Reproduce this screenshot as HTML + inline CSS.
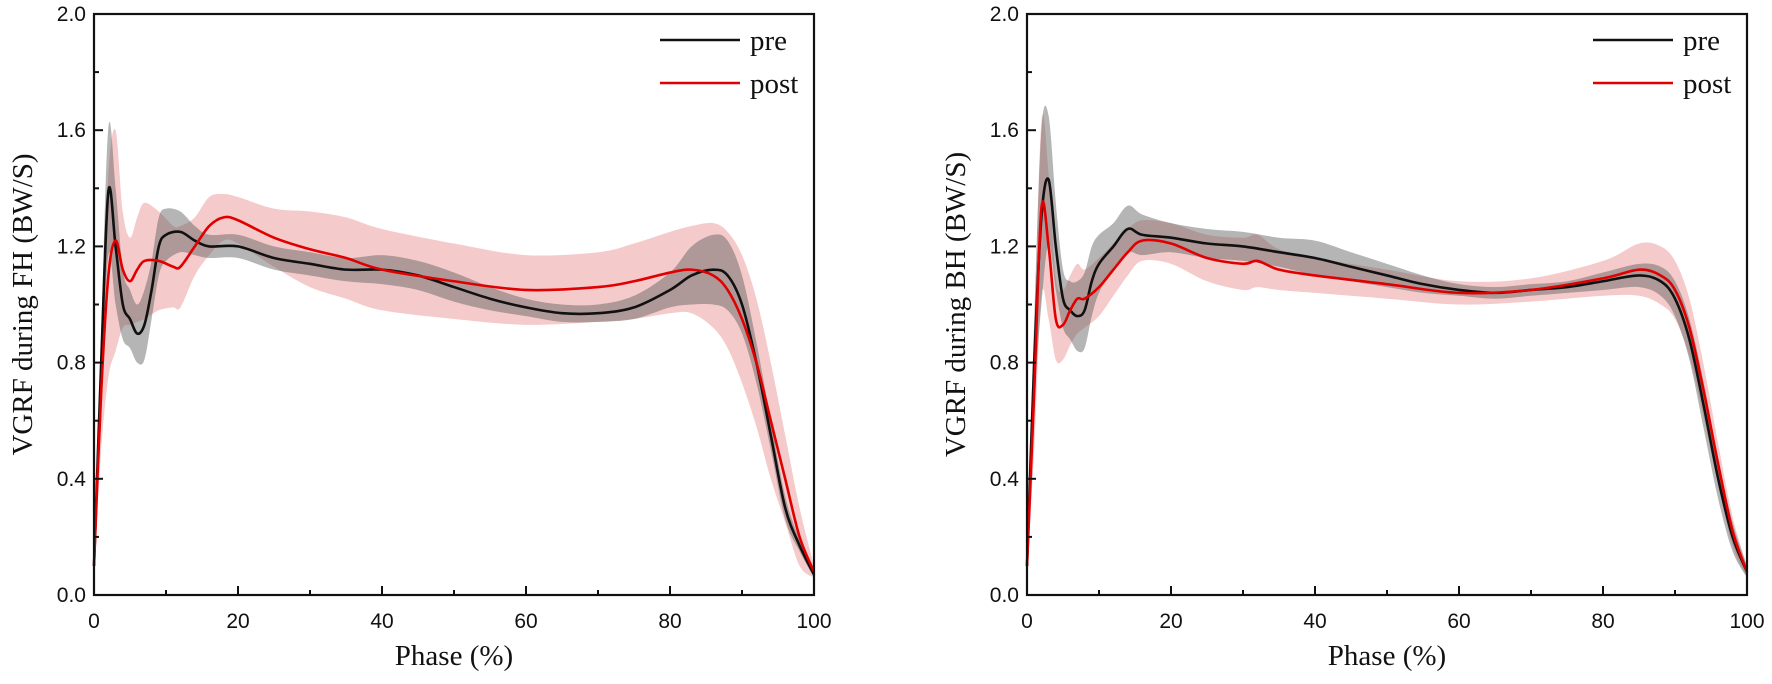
<!DOCTYPE html>
<html><head><meta charset="utf-8"><style>
html,body{margin:0;padding:0;background:#fff;}
svg{display:block;}
.tick{font-family:"Liberation Sans",sans-serif;font-size:21px;fill:#111;}
.title{font-family:"Liberation Serif",serif;font-size:29px;fill:#111;}
.leg{font-family:"Liberation Serif",serif;font-size:29px;fill:#111;}
</style></head><body>
<svg id="chart" width="1772" height="684" viewBox="0 0 1772 684"></svg>
<script>
// Phase points (%)
const fhPreX  = [0,1,2,3,4,5,6,7,8,9,10,12,14,16,20,25,30,35,40,45,50,55,60,65,70,75,80,83,86,88,90,92,94,96,98,100];
const fhPreY  = [0.1,0.8,1.39,1.2,1.0,0.95,0.9,0.93,1.05,1.2,1.24,1.25,1.22,1.2,1.2,1.16,1.14,1.12,1.12,1.1,1.06,1.02,0.99,0.97,0.97,0.99,1.05,1.1,1.12,1.1,1.0,0.8,0.55,0.3,0.17,0.07];
const fhPreSD = [0.02,0.1,0.22,0.2,0.12,0.1,0.1,0.12,0.1,0.1,0.09,0.07,0.05,0.04,0.04,0.04,0.04,0.04,0.05,0.05,0.05,0.04,0.03,0.03,0.03,0.04,0.06,0.1,0.12,0.12,0.1,0.07,0.05,0.04,0.02,0.01];
const fhPostX = [0,1,2,3,4,5,6,7,9,11,12,14,16,18,20,25,30,35,40,50,60,70,75,80,83,86,88,90,92,94,96,98,100];
const fhPostY = [0.1,0.7,1.1,1.22,1.12,1.08,1.12,1.15,1.15,1.13,1.13,1.2,1.27,1.3,1.29,1.23,1.19,1.16,1.12,1.08,1.05,1.06,1.08,1.11,1.12,1.1,1.05,0.95,0.8,0.6,0.4,0.2,0.08];
const fhPostSD= [0.02,0.2,0.35,0.38,0.2,0.15,0.18,0.2,0.17,0.14,0.14,0.1,0.1,0.08,0.08,0.1,0.13,0.14,0.14,0.13,0.12,0.12,0.13,0.14,0.15,0.18,0.2,0.22,0.22,0.2,0.15,0.1,0.02];
const bhPreX  = [0,1,2,3,4,5,6,7,8,9,10,12,14,16,20,25,30,35,40,45,50,55,60,65,70,75,80,85,88,90,92,94,96,98,100];
const bhPreY  = [0.1,0.8,1.3,1.43,1.2,1.02,0.98,0.96,0.98,1.08,1.14,1.2,1.26,1.24,1.23,1.21,1.2,1.18,1.16,1.13,1.1,1.07,1.05,1.04,1.05,1.06,1.08,1.1,1.08,1.02,0.88,0.65,0.4,0.2,0.08];
const bhPreSD = [0.02,0.15,0.3,0.22,0.15,0.1,0.1,0.12,0.13,0.12,0.1,0.08,0.08,0.07,0.05,0.05,0.05,0.05,0.06,0.05,0.04,0.03,0.02,0.02,0.02,0.02,0.03,0.04,0.05,0.06,0.07,0.08,0.07,0.05,0.02];
const bhPostX = [0,1,2,3,4,5,6,7,8,10,12,14,16,20,25,30,32,35,40,50,60,70,80,85,88,90,92,94,96,98,100];
const bhPostY = [0.1,0.7,1.33,1.2,0.95,0.93,0.98,1.02,1.02,1.06,1.12,1.18,1.22,1.21,1.16,1.14,1.15,1.12,1.1,1.07,1.04,1.05,1.09,1.12,1.1,1.05,0.92,0.7,0.45,0.22,0.08];
const bhPostSD= [0.02,0.2,0.3,0.25,0.14,0.12,0.12,0.12,0.1,0.1,0.09,0.08,0.07,0.07,0.08,0.09,0.09,0.07,0.06,0.05,0.04,0.04,0.06,0.09,0.1,0.1,0.1,0.09,0.07,0.05,0.02];
const yTicks = [0,0.4,0.8,1.2,1.6,2.0];
const xTicks = [0,20,40,60,80,100];

const NS='http://www.w3.org/2000/svg';
const svg=document.getElementById('chart');
function mk(tag,attrs,parent){const e=document.createElementNS(NS,tag);for(const k in attrs)e.setAttribute(k,attrs[k]);(parent||svg).appendChild(e);return e;}
function smooth(pts){
  let d='';
  for(let i=0;i<pts.length-1;i++){
    const p0=pts[Math.max(0,i-1)],p1=pts[i],p2=pts[i+1],p3=pts[Math.min(pts.length-1,i+2)];
    const c1=[p1[0]+(p2[0]-p0[0])/6,p1[1]+(p2[1]-p0[1])/6];
    const c2=[p2[0]-(p3[0]-p1[0])/6,p2[1]-(p3[1]-p1[1])/6];
    d+='C'+c1[0].toFixed(2)+','+c1[1].toFixed(2)+' '+c2[0].toFixed(2)+','+c2[1].toFixed(2)+' '+p2[0].toFixed(2)+','+p2[1].toFixed(2);
  }
  return d;
}

function panel(x0,x1,top,bot,label,pX,pY,pSD,qX,qY,qSD,key){
  const sx=v=>x0+(x1-x0)*v/100, sy=v=>bot-(bot-top)*v/2;
  const g=mk('g',{});
  
  
  function band(X,Y,S,fill,name){
    const up=X.map((x,i)=>[sx(x),sy(Y[i]+S[i])]);
    const lo=X.map((x,i)=>[sx(x),sy(Math.max(0,Y[i]-S[i]))]).reverse();
    const d='M'+up[0].join(',')+smooth(up)+'L'+lo[0].join(',')+smooth(lo)+'Z';
    const p=mk('path',{d:d,fill:fill,stroke:'none'},g);
    
    
  }
  function line(X,Y,col,name){
    const pts=X.map((x,i)=>[sx(x),sy(Y[i])]);
    const p=mk('path',{d:'M'+pts[0].join(',')+smooth(pts),fill:'none',stroke:col,'stroke-width':2.6,'stroke-linejoin':'round'},g);
    
    
  }
  band(qX,qY,qSD,'rgba(225,90,90,0.32)',key+'-post-band');
  band(pX,pY,pSD,'rgba(90,90,90,0.45)',key+'-pre-band');
  line(pX,pY,'#111',key+'-pre-line');
  line(qX,qY,'#e00000',key+'-post-line');
  const fr=mk('rect',{x:x0,y:top,width:x1-x0,height:bot-top,fill:'none',stroke:'#111','stroke-width':2.2},g);
  
  
  for(let v=0;v<=100;v+=10){const L=v%20===0?9:5;mk('line',{x1:sx(v),x2:sx(v),y1:bot,y2:bot-L,stroke:'#111','stroke-width':2},g);}
  for(let k=0;k<=10;k++){const v=k*0.2;const L=k%2===0?9:5;mk('line',{x1:x0,x2:x0+L,y1:sy(v),y2:sy(v),stroke:'#111','stroke-width':2},g);}
  xTicks.forEach(v=>{const t=mk('text',{x:sx(v),y:bot+33,'text-anchor':'middle',class:'tick'},g);t.textContent=v;
    });
  yTicks.forEach(v=>{const t=mk('text',{x:x0-8,y:sy(v)+7,'text-anchor':'end',class:'tick'},g);t.textContent=v.toFixed(1);
    });
  const xt=mk('text',{x:(x0+x1)/2,y:bot+70,'text-anchor':'middle',class:'title'},g);xt.textContent='Phase (%)';
  
  const yx=x0-62,yy=(top+bot)/2;
  const yt=mk('text',{x:yx,y:yy,'text-anchor':'middle',class:'title',transform:'rotate(-90 '+yx+' '+yy+')'},g);yt.textContent=label;
  
  const lg=mk('g',{},g);
  
  const lx=x1-154;
  mk('line',{x1:lx,x2:lx+80,y1:40,y2:40,stroke:'#111','stroke-width':2.6},lg);
  mk('line',{x1:lx,x2:lx+80,y1:83,y2:83,stroke:'#e00000','stroke-width':2.6},lg);
  const t1=mk('text',{x:lx+90,y:50,class:'leg'},lg);t1.textContent='pre';
  
  const t2=mk('text',{x:lx+90,y:93,class:'leg'},lg);t2.textContent='post';
  
}
panel(94,814,14,595,'VGRF during FH (BW/S)',fhPreX,fhPreY,fhPreSD,fhPostX,fhPostY,fhPostSD,'fh');
panel(1027,1747,14,595,'VGRF during BH (BW/S)',bhPreX,bhPreY,bhPreSD,bhPostX,bhPostY,bhPostSD,'bh');
</script>
</body></html>
